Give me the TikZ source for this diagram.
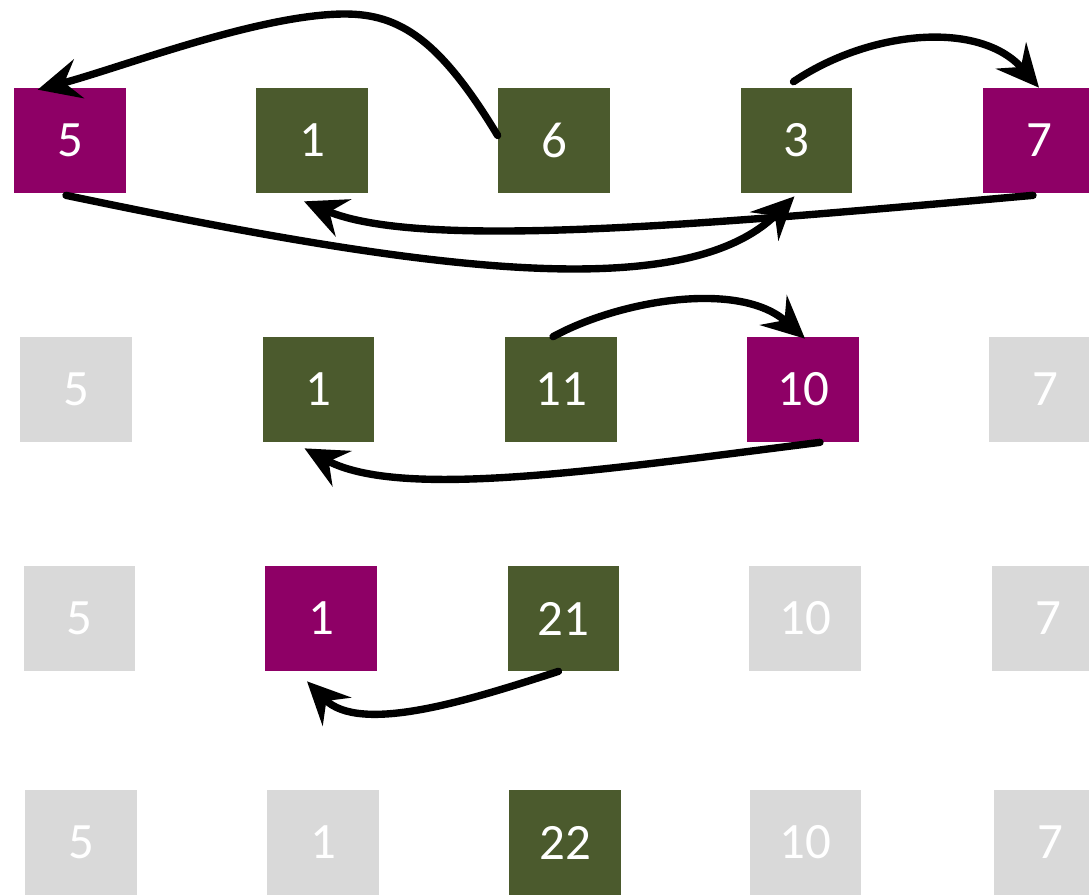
\documentclass[tikz,border=0pt]{standalone}
\usepackage{fontspec}
\setmainfont{Carlito}
\usepackage{xcolor}
\usetikzlibrary{arrows.meta, calc}

\definecolor{moss}{HTML}{4B5A2D}
\definecolor{berry}{HTML}{8E0066}
\definecolor{ash}{HTML}{D9D9D9}

\begin{document}
\begin{tikzpicture}[
    x=0.02cm, y=-0.02cm,
    box/.style={minimum width=2.24cm, minimum height=2.1cm, inner sep=0pt, text=white, font=\fontsize{29}{34}\selectfont},
    live/.style={box, fill=moss},
    pick/.style={box, fill=berry},
    gone/.style={box, fill=ash},
    arr/.style={line width=4.2pt, line cap=round, -{Stealth[length=8.5mm, width=8mm, inset=3mm]}}
]
\useasboundingbox (0,0) rectangle (1089,894);
\clip (0,0) rectangle (1089,894);

% Row 1
\node[pick] (r1a) at (70,140.5) {5};
\node[live] (r1b) at (312,140.5) {1};
\node[live] (r1c) at (554,140.5) {6};
\node[live] (r1d) at (796.5,140.5) {3};
\node[pick] (r1e) at (1039,140.5) {7};

% Row 2
\node[gone] (r2a) at (76,389.5) {5};
\node[live] (r2b) at (318.5,389.5) {1};
\node[live] (r2c) at (561,389.5) {11};
\node[pick] (r2d) at (803,389.5) {10};
\node[gone] (r2e) at (1045,389.5) {7};

% Row 3
\node[gone] (r3a) at (79.5,618.5) {5};
\node[pick] (r3b) at (321,618.5) {1};
\node[live] (r3c) at (563.5,618.5) {21};
\node[gone] (r3d) at (805,618.5) {10};
\node[gone] (r3e) at (1048,618.5) {7};

% Row 4
\node[gone] (r4a) at (81,842.5) {5};
\node[gone] (r4b) at (323,842.5) {1};
\node[live] (r4c) at (565,842.5) {22};
\node[gone] (r4d) at (805.5,842.5) {10};
\node[gone] (r4e) at (1050,842.5) {7};

% Arrows, row 1
\draw[arr] ($(r1c.west)+(0,-5)$) .. controls (440,40) and (400,14) .. (345,14)
    .. controls (260,14) and (120,68) .. ($(r1a.north west)+(24,2)$);
\draw[arr] ($(r1d.north)+(-3,-6)$) .. controls (870,30) and (980,20) .. (r1e.north);
\draw[arr] ($(r1e.south)+(-6,2)$) .. controls (700,225) and (420,250) .. ($(r1b.south)+(-8,8)$);
\draw[arr] ($(r1a.south)+(-4,2)$) .. controls (400,265) and (680,310) .. ($(r1d.south)+(-2,3)$);

% Arrows, row 2
\draw[arr] ($(r2c.north)+(-8,0)$) .. controls (620,300) and (740,280) .. ($(r2d.north)+(2,2)$);
\draw[arr] ($(r2d.south)+(17,0)$) .. controls (600,470) and (400,500) .. ($(r2b.south)+(-14,6)$);

% Arrows, row 3
\draw[arr] ($(r3c.south)+(-5,0)$) .. controls (470,700) and (360,735) .. ($(r3b.south)+(-14,10)$);

\end{tikzpicture}
\end{document}
